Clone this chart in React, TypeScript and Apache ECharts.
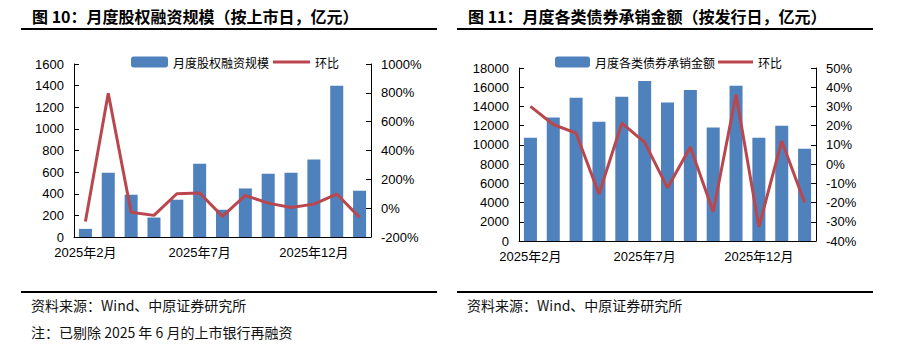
import React, { useEffect, useRef } from 'react';
import * as echarts from 'echarts';

const months = [
  '2025年2月', '2025年3月', '2025年4月', '2025年5月', '2025年6月', '2025年7月', '2025年8月',
  '2025年9月', '2025年10月', '2025年11月', '2025年12月', '2026年1月', '2026年2月',
];
// 图10 月度股权融资规模（亿元）与环比（%）
const equityFinancing = [75, 595, 390, 180, 345, 677, 252, 449, 585, 594, 717, 1400, 428];
const equityMoM = [-92, 797, -29, -50, 100, 105, -57, 88, 35, 5, 28, 98, -64];
// 图11 月度各类债券承销金额（亿元）与环比（%）
const bondUnderwriting = [10750, 12850, 14900, 12400, 15000, 16650, 14400, 15700, 11800, 16150, 10750, 12000, 9600];
const bondMoM = [30, 20.6, 16.1, -15.6, 21.3, 11.3, -12.4, 8.9, -24.8, 36.2, -32.6, 12, -20];

const title1 = '图 10：月度股权融资规模（按上市日，亿元）';
const title2 = '图 11：月度各类债券承销金额（按发行日，亿元）';
const source = '资料来源：Wind、中原证券研究所';
const note = '注：已剔除 2025 年 6 月的上市银行再融资';

const BAR = '#4F81BD';
const LINE = '#B9474D';
const AXIS_FONT = '"Liberation Sans", Arial, "Noto Sans CJK SC", sans-serif';
const LINE_ICON = 'path://M0,0 H37 V3 H0 Z';

function xAxis(gridIndex: number) {
  return {
    type: 'category',
    gridIndex,
    data: months,
    boundaryGap: true,
    axisLine: { lineStyle: { color: '#000', width: 1 } },
    axisTick: { inside: true, length: 5, interval: 4, alignWithLabel: false, lineStyle: { color: '#000' } },
    axisLabel: { interval: 4, margin: 9, color: '#000', fontSize: 13, fontFamily: AXIS_FONT },
    splitLine: { show: false },
  };
}

function yAxis(gridIndex: number, min: number, max: number, interval: number, pos: 'left' | 'right', pct: boolean) {
  return {
    type: 'value',
    gridIndex,
    position: pos,
    min,
    max,
    interval,
    axisLine: { show: true, lineStyle: { color: '#000', width: 1 } },
    axisTick: { show: true, inside: true, length: 5, lineStyle: { color: '#000' } },
    axisLabel: {
      margin: 10,
      color: '#000',
      fontSize: 13,
      fontFamily: AXIS_FONT,
      formatter: (v: number) => (pct ? `${v}%` : `${v}`),
    },
    splitLine: { show: false },
  };
}

export default function App() {
  const ref = useRef<HTMLDivElement>(null);

  useEffect(() => {
    if (!ref.current) return;
    const chart = echarts.init(ref.current, null, { renderer: 'svg' });
    const legendText = { color: '#000', fontSize: 12, fontFamily: '"Noto Sans CJK SC", sans-serif' };
    chart.setOption({
      animation: false,
      backgroundColor: '#fff',
      grid: [
        { left: 74, top: 64, width: 297, height: 173 },
        { left: 519, top: 68, width: 297, height: 173 },
      ],
      legend: [
        {
          left: 126,
          top: 51,
          itemWidth: 37,
          itemHeight: 11,
          itemGap: 4,
          textStyle: legendText,
          data: [{ name: '月度股权融资规模', icon: 'roundRect' }, { name: '环比', icon: LINE_ICON }],
          selectedMode: false,
        },
        {
          left: 550,
          top: 51,
          itemWidth: 35,
          itemHeight: 11,
          itemGap: 3,
          textStyle: legendText,
          data: [{ name: '月度各类债券承销金额', icon: 'roundRect' }, { name: '环比', icon: LINE_ICON }],
          selectedMode: false,
        },
      ],
      xAxis: [xAxis(0), xAxis(1)],
      yAxis: [
        yAxis(0, 0, 1600, 200, 'left', false),
        yAxis(0, -200, 1000, 200, 'right', true),
        yAxis(1, 0, 18000, 2000, 'left', false),
        yAxis(1, -40, 50, 10, 'right', true),
      ],
      series: [
        {
          name: '月度股权融资规模',
          type: 'bar',
          xAxisIndex: 0,
          yAxisIndex: 0,
          data: equityFinancing,
          barWidth: '57%',
          itemStyle: { color: BAR },
        },
        {
          name: '环比',
          type: 'line',
          xAxisIndex: 0,
          yAxisIndex: 1,
          data: equityMoM,
          symbol: 'none',
          lineStyle: { color: LINE, width: 3 },
          itemStyle: { color: LINE },
        },
        {
          name: '月度各类债券承销金额',
          type: 'bar',
          xAxisIndex: 1,
          yAxisIndex: 2,
          data: bondUnderwriting,
          barWidth: '57%',
          itemStyle: { color: BAR },
        },
        {
          name: '环比',
          type: 'line',
          xAxisIndex: 1,
          yAxisIndex: 3,
          data: bondMoM,
          symbol: 'none',
          lineStyle: { color: LINE, width: 3 },
          itemStyle: { color: LINE },
        },
      ],
      graphic: [
        {
          type: 'text', x: 32, y: 16,
          style: { text: title1, font: 'bold 16px "Noto Sans CJK SC", sans-serif', fill: '#000', verticalAlign: 'middle', textVerticalAlign: 'middle' },
        },
        {
          type: 'text', x: 468, y: 16,
          style: { text: title2, font: 'bold 16px "Noto Sans CJK SC", sans-serif', fill: '#000', verticalAlign: 'middle', textVerticalAlign: 'middle' },
        },
        { type: 'line', shape: { x1: 21, y1: 29, x2: 437, y2: 29 }, style: { stroke: '#000', lineWidth: 2 } },
        { type: 'line', shape: { x1: 457, y1: 29, x2: 873, y2: 29 }, style: { stroke: '#000', lineWidth: 2 } },
        { type: 'line', shape: { x1: 21, y1: 292, x2: 437, y2: 292 }, style: { stroke: '#000', lineWidth: 2 } },
        { type: 'line', shape: { x1: 457, y1: 292, x2: 873, y2: 292 }, style: { stroke: '#000', lineWidth: 2 } },
        {
          type: 'text', x: 31, y: 305,
          style: { text: source, font: '14px "Noto Sans CJK SC", sans-serif', fill: '#111', verticalAlign: 'middle', textVerticalAlign: 'middle' },
        },
        {
          type: 'text', x: 31, y: 332,
          style: { text: note, font: '14px "Noto Sans CJK SC", sans-serif', fill: '#111', verticalAlign: 'middle', textVerticalAlign: 'middle' },
        },
        {
          type: 'text', x: 467, y: 305,
          style: { text: source, font: '14px "Noto Sans CJK SC", sans-serif', fill: '#111', verticalAlign: 'middle', textVerticalAlign: 'middle' },
        },
      ],
    });
    return () => chart.dispose();
  }, []);

  return (
    <div
      ref={ref}
      style={{ position: 'fixed', left: 0, top: 0, width: 914, height: 352, background: '#fff' }}
    />
  );
}
